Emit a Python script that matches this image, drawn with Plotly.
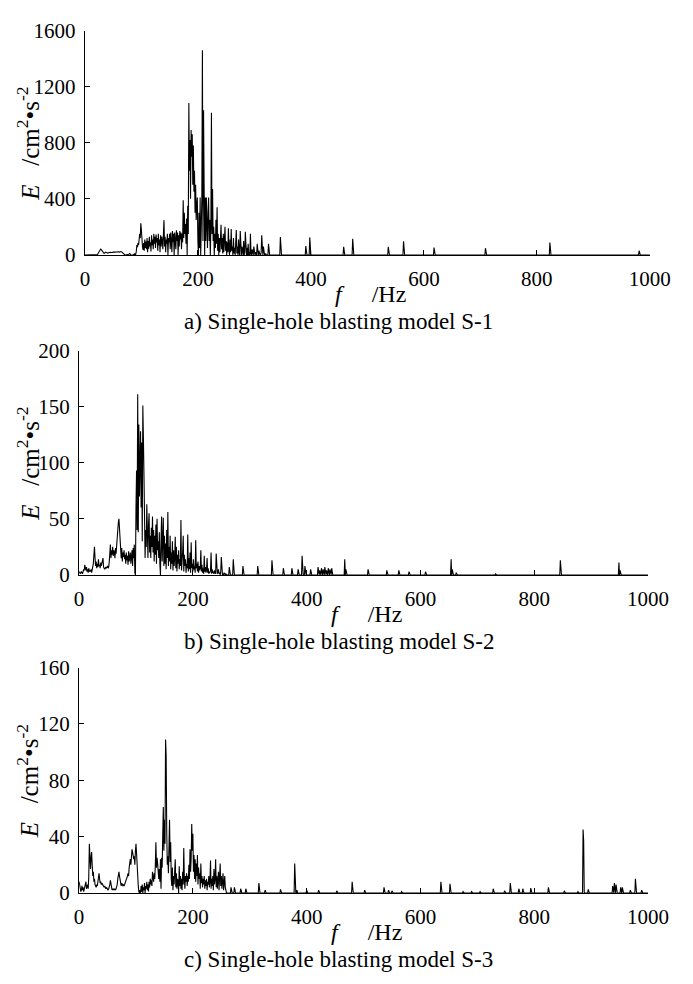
import numpy as np
import plotly.graph_objects as go

# ---------------- data: energy spectra E (cm^2/s^2) vs frequency f (Hz) ----------------
# S-1: 1 Hz bins from 0 Hz, then isolated spectral lines
s1_dense = [
    0, 0, 0, 0, 0, 0, 0, 0, 0, 0,
    0, 0, 0, 0, 0, 0, 0, 0, 0, 0,
    0, 0, 2, 8, 15, 28, 35, 40, 42, 38,
    30, 22, 15, 12, 10, 14, 18, 20, 18, 15,
    12, 13, 15, 18, 20, 19, 18, 16, 15, 17,
    20, 19, 18, 19, 20, 21, 22, 22, 24, 25,
    22, 20, 22, 25, 24, 22, 18, 10, 5, 3,
    0, 0, 0, 0, 0, 0, 0, 0, 5, 10,
    8, 0, 0, 0, 0, 0, 0, 6, 8, 0,
    5, 25, 70, 55, 85, 70, 110, 150, 120, 225,
    180, 90, 55, 35, 85, 30, 110, 50, 95, 40,
    120, 20, 100, 45, 130, 60, 90, 25, 140, 70,
    110, 40, 150, 80, 130, 50, 145, 90, 120, 30,
    150, 70, 110, 20, 140, 60, 130, 100, 40, 150,
    248, 60, 130, 20, 110, 80, 150, 0, 120, 90,
    150, 40, 160, 110, 20, 170, 90, 150, 0, 160,
    120, 40, 175, 100, 160, 0, 140, 60, 170, 110,
    160, 40, 150, 90, 390, 120, 300, 150, 220, 80,
    260, 0, 350, 150, 1083, 600, 820, 400, 890, 700,
    860, 500, 780, 450, 600, 300, 500, 250, 350, 410,
    100, 0, 300, 50, 410, 0, 200, 400, 1459, 100,
    1032, 200, 0, 410, 100, 410, 200, 50, 300, 410,
    100, 250, 0, 200, 1013, 150, 470, 100, 200, 0,
    150, 50, 250, 80, 340, 30, 150, 0, 120, 20,
    180, 215, 40, 120, 10, 150, 20, 80, 200, 30,
    100, 0, 90, 20, 190, 40, 0, 110, 20, 185,
    30, 60, 0, 120, 10, 50, 0, 90, 178, 10,
    60, 0, 110, 20, 0, 170, 30, 0, 60, 10,
    0, 100, 0, 20, 165, 10, 0, 50, 0, 80,
    0, 20, 0, 150, 10, 0, 40, 0, 0, 60,
    0, 0, 20, 0, 0, 80, 0, 0, 30, 0,
    0, 0, 20, 140, 0, 0, 60, 0, 0, 0,
    10, 0, 0, 0, 0, 80, 0, 0, 0, 0,
]
s1_line_f = [346, 357, 391, 398, 458, 474, 537, 564, 618, 709, 823, 981]
s1_line_E = [127, 5, 63, 125, 58, 115, 58, 98, 52, 48, 88, 30]

# S-2
s2_dense = [
    3, 2, 1, 2, 3, 2, 1, 3, 5, 4,
    9, 6, 4, 7, 3, 5, 2, 6, 3, 4,
    3, 5, 2, 4, 6, 10, 18, 25, 15, 8,
    12, 6, 10, 7, 14, 8, 9, 6, 11, 8,
    10, 12, 15, 7, 6, 5, 6, 7, 6, 7,
    8, 6, 7, 12, 20, 27, 15, 22, 18, 25,
    17, 22, 20, 15, 24, 19, 26, 35, 42, 47,
    50, 38, 25, 20, 15, 24, 12, 20, 16, 22,
    14, 18, 10, 20, 13, 17, 9, 21, 12, 15,
    20, 10, 18, 22, 8, 24, 15, 27, 2, 0,
    60, 93, 40, 161, 38, 134, 70, 119, 128, 60,
    118, 30, 151, 123, 90, 60, 15, 40, 25, 63,
    30, 15, 45, 55, 20, 35, 15, 42, 25, 52,
    20, 40, 12, 35, 18, 45, 10, 50, 22, 30,
    15, 38, 10, 0, 30, 52, 12, 25, 51, 8,
    35, 10, 28, 5, 40, 15, 56, 8, 25, 12,
    35, 5, 20, 10, 30, 4, 22, 8, 15, 34,
    6, 25, 3, 18, 10, 22, 5, 14, 8, 49,
    4, 12, 20, 35, 3, 18, 8, 14, 2, 10,
    6, 36, 3, 15, 5, 20, 2, 29, 6, 10,
    3, 14, 5, 8, 2, 31, 6, 10, 3, 12,
    2, 8, 4, 6, 22, 3, 9, 2, 6, 1,
    17, 3, 7, 2, 5, 15, 2, 6, 1, 3,
    2, 4, 20, 1, 5, 2, 3, 1, 4, 2,
    1, 19, 3, 1, 2, 5, 1, 2, 0, 3,
    16, 2, 0, 1, 0, 2, 0, 0, 1, 0,
]
s2_line_f = [264, 271, 288, 314, 339, 359, 374, 385, 392, 397, 407,
             420, 423, 426, 429, 432, 435, 438, 441, 444,
             467, 469, 508, 541, 562, 580, 609, 654, 656, 663, 732, 846, 949, 951]
s2_line_E = [7, 14, 8, 8, 13, 6, 6, 5, 17, 8, 5,
             7, 4, 6, 5, 7, 4, 6, 5, 6,
             14, 5, 5, 4, 4, 3, 3, 14, 5, 2, 1, 13, 11, 4]

# S-3
s3_dense = [
    8, 6, 3, 1, 2, 5, 2, 4, 1, 3,
    5, 7, 8, 3, 4, 6, 3, 12, 35, 28,
    17, 25, 29, 20, 12, 15, 8, 10, 6, 5,
    4, 6, 5, 8, 11, 14, 10, 7, 8, 6,
    7, 6, 5, 5, 4, 5, 4, 3, 4, 3,
    3, 2, 3, 4, 6, 9, 5, 3, 2, 3,
    2, 3, 2, 3, 2, 3, 4, 6, 10, 13,
    15, 12, 8, 6, 5, 7, 6, 5, 6, 5,
    6, 7, 8, 9, 10, 12, 14, 12, 18, 22,
    24, 20, 28, 31, 29, 26, 24, 26, 20, 30,
    35, 28, 17, 10, 5, 1, 0, 2, 0, 5,
    1, 6, 0, 4, 2, 7, 0, 5, 3, 8,
    2, 6, 1, 8, 4, 10, 6, 9, 5, 15,
    12, 8, 14, 10, 20, 36, 18, 25, 21, 12,
    10, 17, 8, 24, 3, 25, 18, 40, 61, 30,
    52, 35, 109, 98, 45, 20, 26, 14, 30, 52,
    22, 36, 10, 5, 18, 2, 12, 6, 15, 24,
    4, 14, 3, 10, 8, 0, 19, 5, 12, 3,
    10, 2, 15, 6, 32, 10, 3, 12, 8, 14,
    5, 12, 8, 20, 10, 31, 15, 25, 49, 30,
    42, 15, 27, 10, 24, 8, 21, 12, 27, 6,
    18, 10, 14, 3, 21, 7, 12, 4, 10, 6,
    12, 3, 9, 5, 10, 2, 8, 6, 12, 4,
    8, 23, 3, 10, 5, 12, 2, 17, 6, 10,
    24, 4, 12, 3, 8, 15, 2, 10, 21, 5,
    12, 3, 8, 14, 2, 6, 12, 4, 1, 0,
]
s3_line_f = [267, 273, 284, 293, 316, 327, 354, 379, 380, 383, 400, 421, 453,
             480, 502, 536, 544, 550, 567, 636, 652, 675, 690, 705, 728, 748,
             758, 773, 780, 794, 825, 853, 877, 886, 887, 895, 938, 941, 944,
             952, 955, 969, 978, 989]
s3_line_E = [4, 4, 3, 3, 7, 2, 2.5, 21, 8, 2, 2, 2, 1.5,
             8, 2, 4, 2, 1.5, 1, 8, 6.5, 1, 1, 1, 3, 1.5,
             7, 3, 3, 3.5, 4, 1.5, 1, 45, 37, 2.5, 5, 7, 6,
             4, 4, 2, 10, 2]

y_ranges = [1600, 200, 160]
y_ticks = [[0, 400, 800, 1200, 1600], [0, 50, 100, 150, 200], [0, 40, 80, 120, 160]]
x_ticks = [0, 200, 400, 600, 800, 1000]
captions = ["a) Single-hole blasting model S-1",
            "b) Single-hole blasting model S-2",
            "c) Single-hole blasting model S-3"]


def spectrum(dense, line_f, line_E):
    f = np.arange(0, 1001)
    E = np.zeros(f.size)
    E[:len(dense)] = dense
    for fi, ei in zip(line_f, line_E):
        E[fi] = ei
    return f, E


series = [spectrum(s1_dense, s1_line_f, s1_line_E),
          spectrum(s2_dense, s2_line_f, s2_line_E),
          spectrum(s3_dense, s3_line_f, s3_line_E)]

# ---------------- layout (pixel geometry of each panel) ----------------
W, H = 693, 984
# left, right, top, bottom of each plotting area in pixels
boxes = [(83, 670, 19, 249), (77, 668, 347, 577), (77, 668, 672, 903)]

FONT = "Liberation Serif"

fig = go.Figure()
annotations = []
for i, ((f, E), (l, r, t, b)) in enumerate(zip(series, boxes)):
    xa = "x" if i == 0 else f"x{i + 1}"
    ya = "y" if i == 0 else f"y{i + 1}"
    fig.add_trace(go.Scatter(x=f, y=E, mode="lines", xaxis=xa, yaxis=ya,
                             line=dict(color="black", width=1.1),
                             showlegend=False, hoverinfo="skip"))
    axis_common = dict(showgrid=False, zeroline=False, showline=True,
                       linecolor="black", linewidth=1.3, ticks="inside",
                       ticklen=5, tickwidth=1, tickcolor="black",
                       tickfont=dict(family=FONT, size=21, color="black"))
    xkey = "xaxis" if i == 0 else f"xaxis{i + 1}"
    ykey = "yaxis" if i == 0 else f"yaxis{i + 1}"
    fig.update_layout(**{
        xkey: dict(domain=[l / W, r / W], range=[0, 1000], tickvals=x_ticks,
                   anchor=ya, ticklabelstandoff=5, **axis_common),
        ykey: dict(domain=[1 - b / H, 1 - t / H], range=[0, y_ranges[i]],
                   tickvals=y_ticks[i], anchor=xa, ticklabelstandoff=4,
                   **axis_common),
    })
    cx = (l + r) / 2
    cy = (t + b) / 2
    # x-axis title
    annotations.append(dict(text="<i>f</i>\u00a0\u00a0\u00a0\u00a0\u00a0/Hz", xref="paper", yref="paper",
                            x=(cx + 3) / W, y=1 - (b + 40) / H, showarrow=False,
                            xanchor="center", yanchor="middle",
                            font=dict(family=FONT, size=24, color="black")))
    # y-axis title
    annotations.append(dict(text="<i>E</i>\u00a0\u00a0\u00a0/cm<sup>2</sup>\u2022s<sup>-2</sup>",
                            xref="paper", yref="paper", x=24 / W, y=1 - (cy + 1) / H,
                            textangle=-90, showarrow=False,
                            xanchor="center", yanchor="middle",
                            font=dict(family=FONT, size=25, color="black")))
    # panel caption
    annotations.append(dict(text=captions[i], xref="paper", yref="paper",
                            x=347 / W, y=1 - (b + 68) / H, showarrow=False,
                            xanchor="center", yanchor="middle",
                            font=dict(family=FONT, size=23, color="black")))

fig.update_layout(width=W, height=H, margin=dict(l=0, r=0, t=0, b=0),
                  paper_bgcolor="white", plot_bgcolor="white",
                  annotations=annotations)

fig.write_html("out.html")
